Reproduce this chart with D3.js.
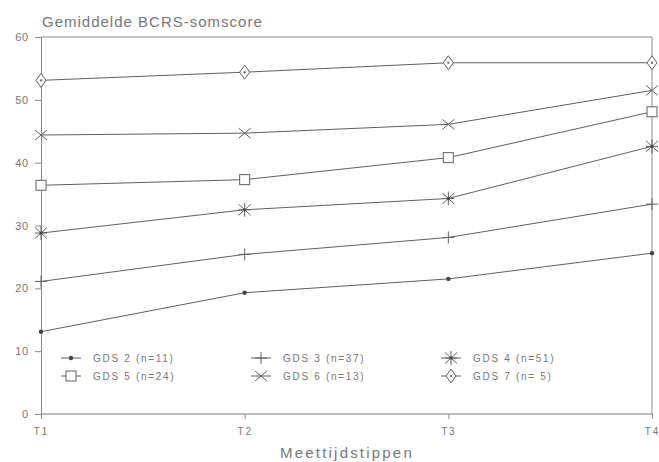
<!DOCTYPE html>
<html>
<head>
<meta charset="utf-8">
<script src="https://cdn.jsdelivr.net/npm/d3@7"></script>
<style>
  html, body { margin: 0; padding: 0; background: #fff; }
  svg text { font-family: "Liberation Sans", Arial, sans-serif; fill: #777; }
</style>
</head>
<body>
<svg id="chart" width="659" height="462"></svg>
<script>
const timepoints = ["T1", "T2", "T3", "T4"];
const yTicks = [0, 10, 20, 30, 40, 50, 60];
const seriesNames = ["GDS 2 (n=11)", "GDS 3 (n=37)", "GDS 4 (n=51)", "GDS 5 (n=24)", "GDS 6 (n=13)", "GDS 7 (n= 5)"];
const seriesSymbols = ["dot", "plus", "asterisk", "square", "cross", "diamond"];
const gds2 = [13.1, 19.3, 21.5, 25.6];
const gds3 = [21.1, 25.4, 28.1, 33.4];
const gds4 = [28.8, 32.5, 34.3, 42.6];
const gds5 = [36.4, 37.3, 40.8, 48.1];
const gds6 = [44.4, 44.7, 46.1, 51.5];
const gds7 = [53.1, 54.4, 55.9, 55.9];
const seriesValues = [gds2, gds3, gds4, gds5, gds6, gds7];
const title = "Gemiddelde BCRS-somscore";
const xTitle = "Meettijdstippen";

(function () {
const svg = d3.select("#chart");
const mLeft = 41, mRight = 652, mTop = 37, mBottom = 414;
const stroke = "#606060";

const x = d3.scalePoint().domain(timepoints).range([mLeft, mRight]);
const y = d3.scaleLinear().domain([0, 60]).range([mBottom, mTop]);

// frame: top and right
svg.append("line").attr("x1", mLeft).attr("x2", mRight).attr("y1", mTop).attr("y2", mTop)
  .attr("stroke", "#8a8a8a").attr("stroke-width", 1);
svg.append("line").attr("x1", mRight).attr("x2", mRight).attr("y1", mTop).attr("y2", mBottom)
  .attr("stroke", "#8a8a8a").attr("stroke-width", 1);

// y axis
const yAxis = d3.axisLeft(y).tickValues(yTicks).tickSize(6).tickPadding(6);
const gy = svg.append("g").attr("transform", `translate(${mLeft},0)`).call(yAxis);
gy.select(".domain").attr("stroke", "#8a8a8a");
gy.selectAll(".tick line").attr("stroke", "#8a8a8a");
gy.selectAll(".tick text").style("font-size", "11px").attr("fill", "#777").style("letter-spacing", "0.8px");

// x axis
const xAxis = d3.axisBottom(x).tickSize(5).tickPadding(9);
const gx = svg.append("g").attr("transform", `translate(0,${mBottom})`).call(xAxis);
gx.select(".domain").attr("stroke", "#7a7a7a").attr("d", `M${mLeft},0H${mRight}`);
gx.selectAll(".tick line").attr("stroke", "#8a8a8a");
gx.selectAll(".tick text").style("font-size", "10px").attr("fill", "#777").style("letter-spacing", "1.8px");

// titles
svg.append("text").attr("x", 42).attr("y", 27).text(title)
  .style("font-size", "15px").style("letter-spacing", "1.0px");
svg.append("text").attr("x", 347).attr("y", 458).attr("text-anchor", "middle").text(xTitle)
  .style("font-size", "15px").style("letter-spacing", "2.2px");

function drawSymbol(g, type, cx, cy) {
  const s = g.append("g").attr("transform", `translate(${cx},${cy})`)
    .attr("stroke", stroke).attr("stroke-width", 1).attr("fill", "none");
  if (type === "dot") {
    s.append("circle").attr("r", 2.2).attr("fill", "#444").attr("stroke", "none");
  } else if (type === "plus") {
    s.append("path").attr("d", "M-6,0H6M0,-6V6");
  } else if (type === "asterisk") {
    s.append("path").attr("d", "M-6,-5.5L6,5.5M-6,5.5L6,-5.5M0,-7V7M-6,0H6");
    s.append("circle").attr("r", 1.5).attr("fill", "#444").attr("stroke", "none");
  } else if (type === "square") {
    s.append("rect").attr("x", -5).attr("y", -5).attr("width", 10).attr("height", 10).attr("fill", "#fff");
  } else if (type === "cross") {
    s.append("path").attr("d", "M-6,-5L6,5M-6,5L6,-5");
  } else if (type === "diamond") {
    s.append("path").attr("d", "M0,-7L5,0L0,7L-5,0Z").attr("fill", "#fff");
    s.append("circle").attr("r", 1.2).attr("fill", "#777").attr("stroke", "none");
  }
}

const line = d3.line().x((d, i) => x(timepoints[i])).y(d => y(d));
const plot = svg.append("g");
seriesValues.forEach((vals) => {
  plot.append("path").datum(vals).attr("d", line)
    .attr("fill", "none").attr("stroke", stroke).attr("stroke-width", 1);
});
seriesValues.forEach((vals, si) => {
  vals.forEach((v, i) => drawSymbol(plot, seriesSymbols[si], x(timepoints[i]), y(v)));
});

// legend
const legCols = [71, 261, 451];
const legRows = [358, 376];
const legend = svg.append("g");
seriesNames.forEach((name, i) => {
  const cx = legCols[i % 3], cy = legRows[Math.floor(i / 3)];
  legend.append("line").attr("x1", cx - 10).attr("x2", cx + 10).attr("y1", cy).attr("y2", cy)
    .attr("stroke", stroke).attr("stroke-width", 1);
  drawSymbol(legend, seriesSymbols[i], cx, cy);
  legend.append("text").attr("x", cx + 22).attr("y", cy + 4).text(name)
    .style("font-size", "10px").style("letter-spacing", "1.7px");
});
})();
</script>
</body>
</html>
